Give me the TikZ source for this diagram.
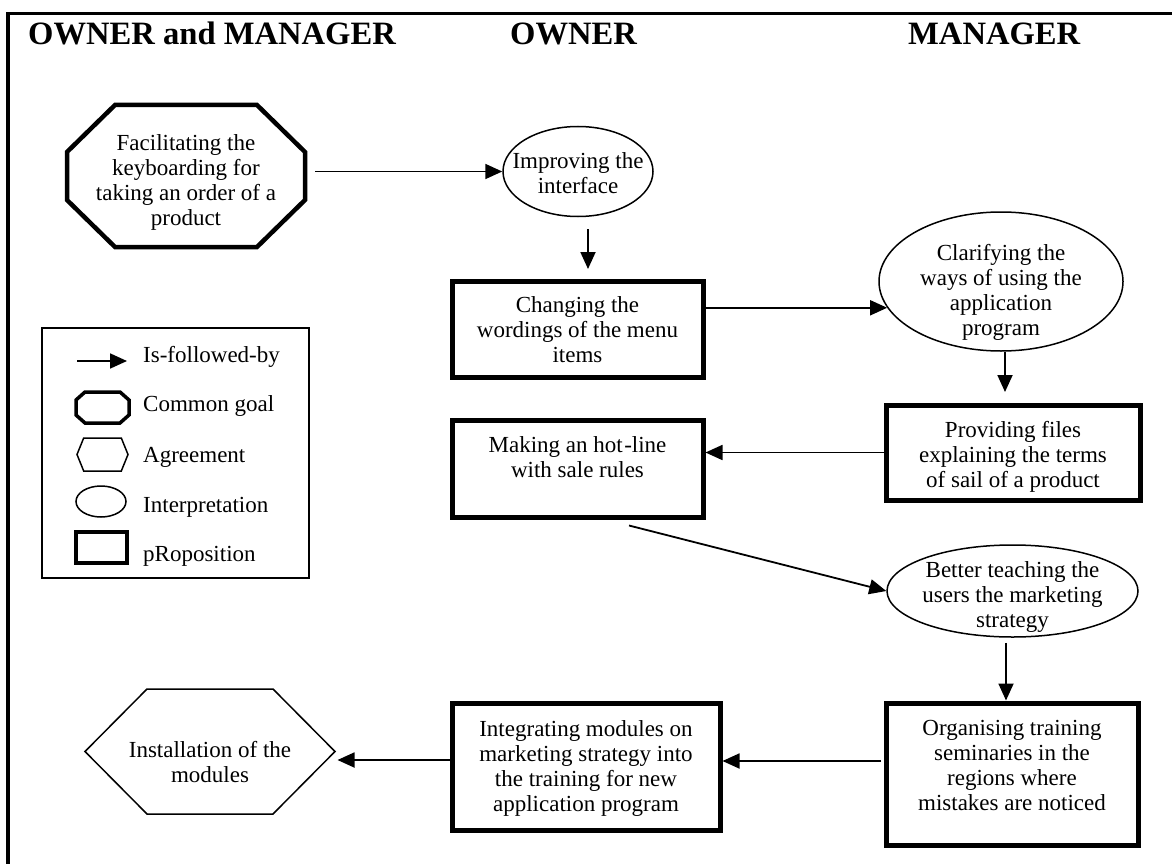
\documentclass[tikz,border=0pt]{standalone}
\usepackage{fontspec}
\setmainfont{Liberation Serif}
\usetikzlibrary{arrows.meta,shapes.geometric,calc}

\newcommand{\bodyfont}{\fontsize{23}{25}\selectfont}
\newcommand{\headfont}{\fontsize{32.6}{36}\selectfont\bfseries}
% lines of a box, moved up or down inside their shape (the shape keeps its own size)
\newcommand{\shiftlines}[2]{\raisebox{\dimexpr#1-5.75pt\relax}[0pt][0pt]{\makebox[0pt]{\begin{tabular}{@{}c@{}}#2\end{tabular}}}}
% outline with cut corners round a node: node, cut along x, cut along y
\newcommand{\chamfer}[4][]{%
  \draw[#1] ($(#2.north west)+(#3,0)$) -- ($(#2.north east)+(-#3,0)$)
    -- ($(#2.north east)+(0,#4)$) -- ($(#2.south east)+(0,-#4)$)
    -- ($(#2.south east)+(-#3,0)$) -- ($(#2.south west)+(#3,0)$)
    -- ($(#2.south west)+(0,-#4)$) -- ($(#2.north west)+(0,#4)$) -- cycle;}

\tikzset{
  goal/.style={rectangle, inner sep=0pt, outer sep=0pt},
  agree/.style={rectangle, inner sep=0pt, outer sep=0pt},
  prop/.style={rectangle, draw, line width=5pt, inner sep=0pt},
  interp/.style={ellipse, draw, line width=1.5pt, inner sep=0pt},
  flow/.style={-{Triangle[length=17pt,width=15pt]}, line width=1.8pt},
  header/.style={font=\headfont, anchor=base west, inner sep=0pt},
  legtext/.style={font=\bodyfont, anchor=base west, inner sep=0pt}
}

\begin{document}
\begin{tikzpicture}[x=1pt, y=-1pt, every node/.style={font=\bodyfont}]
        \useasboundingbox (0,0) rectangle (1172,864);
        % Frame and column titles
        \draw[line width=3.5pt] (8,864) -- (8,13.5) -- (1172,13.5);
        \node[header] (hboth) at (28,45) {OWNER and MANAGER};
        \node[header] (hown) at (510,45) {OWNER};
        \node[header] (hman) at (908,45) {MANAGER};

        % ============================================================
        % Chain of steps
        % ============================================================
        \node[goal, minimum width=238pt, minimum height=142pt] (facil) at (186,176)
            {\shiftlines{-7pt}{Facilitating the\\keyboarding for\\taking an order of a\\product}};
        \chamfer[line width=4.5pt]{facil}{48}{47}
        \node[interp, minimum width=150pt, minimum height=90pt] (improve) at (578,171.5)
            {\shiftlines{-5pt}{Improving the\\interface}};
        \node[prop, minimum width=251pt, minimum height=96pt] (wording) at (577.5,329)
            {\shiftlines{-4pt}{Changing the\\wordings of the menu\\items}};
        \node[interp, minimum width=244pt, minimum height=139pt] (clarify) at (1001,281.5)
            {\shiftlines{-12pt}{Clarifying the\\ways of using the\\application\\program}};
        \node[prop, minimum width=254pt, minimum height=95pt] (files) at (1013,452.5)
            {\shiftlines{-5pt}{Providing files\\explaining the terms\\of sail of a product}};
        \node[prop, minimum width=251pt, minimum height=97pt] (hotline) at (577.5,468.5)
            {\shiftlines{8pt}{Making an hot\kern1.5pt-line\\with sale rules}};
        \node[interp, minimum width=251pt, minimum height=92pt] (teach) at (1012.5,591)
            {\shiftlines{-7pt}{Better teaching the\\users the marketing\\strategy}};
        \node[prop, minimum width=252pt, minimum height=142pt] (seminar) at (1012,774)
            {\shiftlines{6pt}{Organising training\\seminaries in the\\regions where\\mistakes are noticed}};
        \node[prop, minimum width=268pt, minimum height=127pt] (modules) at (586,766.5)
            {\shiftlines{-3pt}{Integrating modules on\\marketing strategy into\\the training for new\\application program}};
        \node[agree, minimum width=250pt, minimum height=125pt] (install) at (210,751.5)
            {\shiftlines{-14pt}{Installation of the\\modules}};
        \chamfer[line width=1.5pt]{install}{62}{62.5}

        \draw[flow, shorten <=10pt] (facil.east |- improve.west) -- (improve.west);
        \draw[flow, shorten <=12pt, shorten >=9.5pt] ([xshift=10pt]improve.south) -- ([xshift=10pt]improve.south |- wording.north);
        \draw[flow] (wording.east |- clarify.193) -- (clarify.193);
        \draw[flow, shorten >=10.5pt] ([xshift=4pt]clarify.south) -- ([xshift=4pt]clarify.south |- files.north);
        \draw[flow] (files.west) -- (hotline.east |- files.west);
        \draw[flow] ([xshift=51.5pt,yshift=-6pt]hotline.south) -- (teach.west);
        \draw[flow, shorten <=5pt] ([xshift=-6.5pt]teach.south) -- ([xshift=-6.5pt]teach.south |- seminar.north);
        \draw[flow, shorten <=2.5pt] ([yshift=13pt]seminar.west) -- ([yshift=13pt]seminar.west -| modules.east);
        \draw[flow, shorten >=2.5pt] ([yshift=6.5pt]modules.west) -- ([yshift=6.5pt]modules.west -| install.east);

        % ============================================================
        % Legend
        % ============================================================
        \draw[line width=1.5pt] (42,328) rectangle (309,578);
        \coordinate (legfrom) at (77,361);
        \coordinate (legto) at (127,361);
        \draw[flow] (legfrom) -- (legto);
        \node[goal, minimum width=53pt, minimum height=31pt] (leggoal) at (102.5,407.5) {};
        \chamfer[line width=3.5pt]{leggoal}{9}{8}
        \node[agree, minimum width=51pt, minimum height=33pt] (legagree) at (102.5,454.5) {};
        \chamfer[line width=1.5pt]{legagree}{6.7}{16.5}
        \node[interp, minimum width=50pt, minimum height=31pt] (leginterp) at (101,501.5) {};
        \node[prop, line width=4pt, minimum width=51pt, minimum height=31pt] (legprop) at (101.5,547.5) {};
        \node[legtext] (tfollow) at (143,362) {Is-followed-by};
        \node[legtext] (tgoal) at (143,411) {Common goal};
        \node[legtext] (tagree) at (143,462) {Agreement};
        \node[legtext] (tinterp) at (143,512) {Interpretation};
        \node[legtext] (tprop) at (143,561) {pRoposition};
\end{tikzpicture}
\end{document}
